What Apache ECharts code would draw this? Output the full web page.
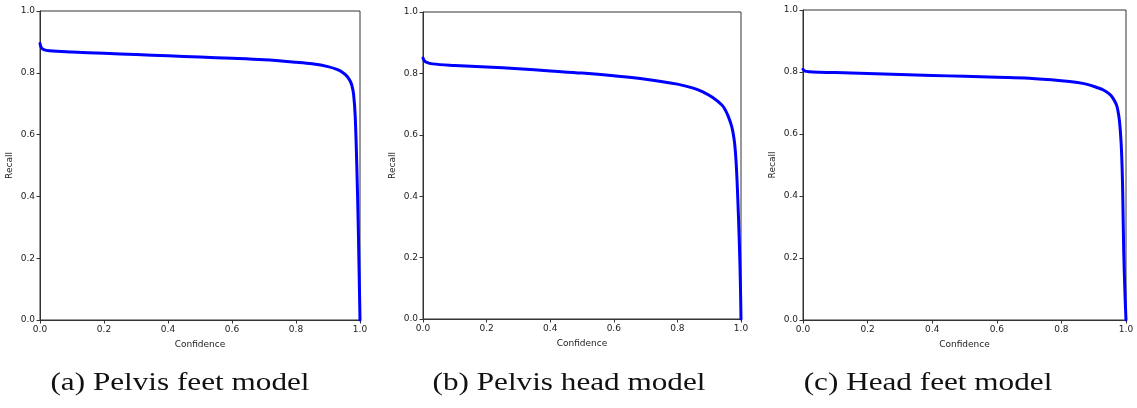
<!DOCTYPE html>
<html>
<head>
<meta charset="utf-8">
<script src="https://cdn.jsdelivr.net/npm/echarts@6/dist/echarts.min.js"></script>
<style>
  html, body { margin: 0; padding: 0; background: #fff; }
  #chart { width: 1137px; height: 408px; }
</style>
</head>
<body>
<div id="chart"></div>
<script>
// (a) pelvis feet model
const confA = [0, 0.003, 0.01, 0.03, 0.1, 0.2, 0.3, 0.4, 0.5, 0.6, 0.7, 0.8, 0.85, 0.9, 0.93, 0.95, 0.96, 0.97, 0.975, 0.98, 0.985, 0.99, 0.994, 0.997, 1.0];
const recallA = [0.895, 0.884, 0.876, 0.871, 0.867, 0.863, 0.859, 0.855, 0.851, 0.847, 0.842, 0.834, 0.829, 0.820, 0.810, 0.798, 0.788, 0.772, 0.758, 0.730, 0.660, 0.500, 0.330, 0.170, 0.0];
// (b) pelvis head model
const confB = [0, 0.003, 0.01, 0.03, 0.1, 0.2, 0.3, 0.4, 0.5, 0.6, 0.7, 0.8, 0.85, 0.88, 0.91, 0.94, 0.95, 0.96, 0.97, 0.975, 0.98, 0.985, 0.99, 0.995, 0.998, 1.0];
const recallB = [0.850, 0.843, 0.837, 0.831, 0.826, 0.821, 0.815, 0.808, 0.801, 0.792, 0.781, 0.765, 0.752, 0.740, 0.722, 0.697, 0.682, 0.660, 0.630, 0.607, 0.572, 0.505, 0.390, 0.240, 0.120, 0.0];
// (c) head feet model
const confC = [0, 0.003, 0.01, 0.03, 0.1, 0.2, 0.3, 0.4, 0.5, 0.6, 0.7, 0.8, 0.85, 0.88, 0.91, 0.93, 0.95, 0.96, 0.97, 0.975, 0.98, 0.985, 0.988, 0.99, 0.993, 0.997, 1.0];
const recallC = [0.809, 0.805, 0.802, 0.800, 0.798, 0.795, 0.792, 0.789, 0.786, 0.783, 0.780, 0.772, 0.766, 0.760, 0.750, 0.742, 0.728, 0.715, 0.695, 0.675, 0.640, 0.570, 0.490, 0.400, 0.220, 0.080, 0.0];

const captions = ["(a) Pelvis feet model", "(b) Pelvis head model", "(c) Head feet model"];

const chart = echarts.init(document.getElementById("chart"));

const grids = [
  { left: 40, top: 11, width: 320, height: 309 },
  { left: 423, top: 12, width: 318, height: 307 },
  { left: 803, top: 10, width: 323, height: 310 }
];
const capX = [180, 569, 928];
const panels = [[confA, recallA], [confB, recallB], [confC, recallC]];

const tickLabel = { fontFamily: "DejaVu Sans", fontSize: 9, color: "#222", margin: 5 };
const axisLine = { show: true, lineStyle: { color: "#333", width: 1 } };
const axisTick = { show: true, length: 3.5, inside: false, lineStyle: { color: "#333" } };

const option = {
  animation: false,
  grid: grids.map(g => Object.assign({ show: true, borderColor: "#333", borderWidth: 1, backgroundColor: "#fff" }, g)),
  xAxis: grids.map((g, i) => ({
    type: "value", gridIndex: i, min: 0, max: 1, interval: 0.2,
    name: "Confidence", nameLocation: "middle", nameGap: 20,
    nameTextStyle: { fontFamily: "DejaVu Sans", fontSize: 9, color: "#222" },
    axisLine, axisTick, splitLine: { show: false },
    axisLabel: Object.assign({ formatter: v => v.toFixed(1) }, tickLabel)
  })),
  yAxis: grids.map((g, i) => ({
    type: "value", gridIndex: i, min: 0, max: 1, interval: 0.2,
    name: "Recall", nameLocation: "middle", nameGap: 26,
    nameTextStyle: { fontFamily: "DejaVu Sans", fontSize: 9, color: "#222" },
    axisLine, axisTick, splitLine: { show: false },
    axisLabel: Object.assign({ formatter: v => v.toFixed(1) }, tickLabel)
  })),
  series: panels.map((p, i) => ({
    type: "line", xAxisIndex: i, yAxisIndex: i,
    data: p[0].map((x, k) => [x, p[1][k]]),
    showSymbol: false, smooth: 0.35,
    lineStyle: { color: "#0000ff", width: 3, cap: "round", join: "round" },
    clip: false
  })),
  graphic: captions.map((t, i) => ({
    type: "text", x: capX[i], y: 383, scaleX: 1.2,
    style: { text: t, font: '26px "Liberation Serif"', fill: "#111", align: "center", verticalAlign: "middle" }
  }))
};
chart.setOption(option);
</script>
</body>
</html>
